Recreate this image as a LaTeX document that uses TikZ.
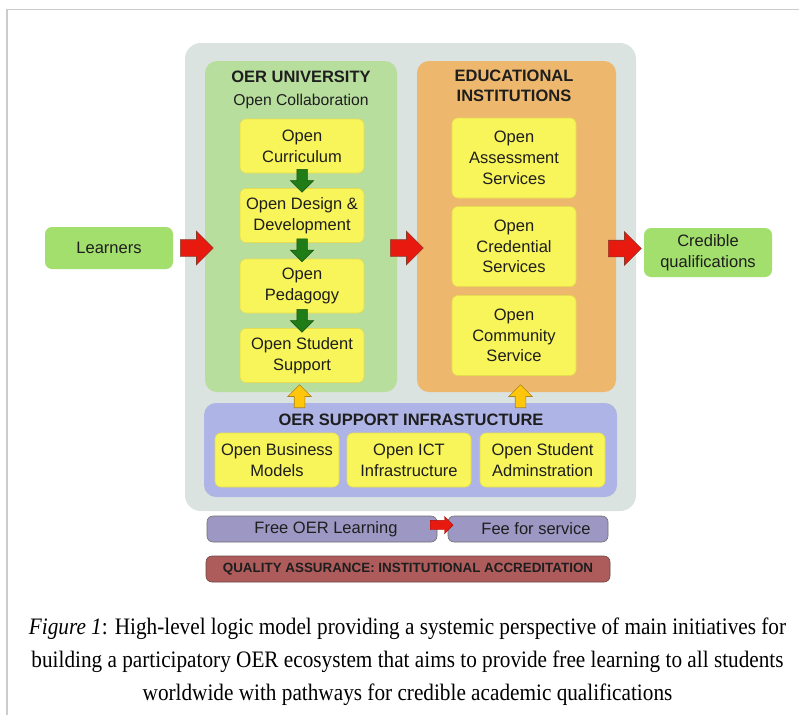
\documentclass[tikz,border=0pt]{standalone}
\usepackage{fontspec}
\setmainfont{Liberation Serif}
\newfontfamily\arialf{Liberation Sans}
\newfontfamily\capfont[FakeStretch=0.9]{Liberation Serif}
\usetikzlibrary{shapes.arrows}
\definecolor{framegray}{HTML}{CCCCCC}
\definecolor{outerc}{HTML}{DAE3DF}
\definecolor{univc}{HTML}{B8DE9D}
\definecolor{instc}{HTML}{EDB86D}
\definecolor{suppc}{HTML}{AEB4E5}
\definecolor{yboxc}{HTML}{F8F55A}
\definecolor{yboxe}{HTML}{E6DC50}
\definecolor{learnc}{HTML}{A3DF6C}
\definecolor{purpc}{HTML}{9D97C3}
\definecolor{purpe}{HTML}{707070}
\definecolor{qac}{HTML}{AE5B5B}
\definecolor{qae}{HTML}{6A4848}
\definecolor{redar}{HTML}{E8190F}
\definecolor{redard}{HTML}{8A3A2A}
\definecolor{greenar}{HTML}{1F7C17}
\definecolor{greenard}{HTML}{17520F}
\definecolor{yelar}{HTML}{FFC60B}
\definecolor{yelard}{HTML}{A88420}
\definecolor{txt}{HTML}{1E1E1E}
\newcommand{\stxt}{\arialf\fontsize{16.5}{20.7}\selectfont}
\newcommand{\ctxt}{\arialf\fontsize{15.7}{20}\selectfont}
\newcommand{\btxt}{\arialf\bfseries\fontsize{16.5}{20.5}\selectfont}
\newcommand{\qtxt}{\arialf\bfseries\fontsize{13.4}{16}\selectfont}
\newcommand{\captxt}{\capfont\fontsize{23.6}{32.8}\selectfont}
\tikzset{
  panel/.style={rounded corners=12pt, inner sep=0pt},
  ybox/.style={fill=yboxc, draw=yboxe, line width=0.6pt, rounded corners=6pt,
    minimum width=124pt, align=center, font=\stxt, text=txt, inner sep=0pt},
  gbox/.style={fill=learnc, rounded corners=7pt, minimum width=128pt,
    align=center, font=\stxt, text=txt, inner sep=0pt},
  pbar/.style={fill=purpc, draw=purpe, line width=0.6pt, rounded corners=6pt,
    minimum height=26pt, font=\stxt, text=txt, inner sep=0pt},
  redarrow/.style={single arrow, fill=redar, draw=redard, line width=0.6pt,
    inner xsep=0pt, inner ysep=8pt, single arrow head extend=8.5pt,
    minimum height=33pt, anchor=tail},
  smallred/.style={single arrow, fill=redar, draw=redar!70!black, line width=0.4pt,
    inner xsep=0pt, inner ysep=4.5pt, single arrow head extend=4pt,
    minimum height=23pt, anchor=tail},
  greenarrow/.style={single arrow, fill=greenar, draw=greenard, line width=0.5pt,
    inner xsep=0pt, inner ysep=5pt, single arrow head extend=6.5pt,
    minimum height=23pt, rotate=-90, anchor=tail},
  yelarrow/.style={single arrow, fill=yelar, draw=yelard, line width=0.6pt,
    inner xsep=0pt, inner ysep=5pt, single arrow head extend=6.5pt,
    minimum height=23pt, rotate=90, anchor=tail},
}
\begin{document}
\begin{tikzpicture}[x=1pt,y=-1pt]
\useasboundingbox (0,0) rectangle (799,715);
\fill[white] (0,0) rectangle (799,715);
\draw[framegray, line width=1.5pt] (7,715) -- (7,9.5) -- (799,9.5);

% panels
\node[panel, fill=outerc, rounded corners=16pt, minimum width=451pt, minimum height=468pt] (outer) at (410.5,277) {};
\node[panel, fill=univc, minimum width=192pt, minimum height=331pt] (univ) at (301,226.5) {};
\node[panel, fill=instc, minimum width=199pt, minimum height=331pt] (inst) at (516.5,226.5) {};
\node[panel, fill=suppc, minimum width=413pt, minimum height=94pt] (supp) at (410.5,450) {};

% headings
\node[font=\btxt, text=txt, inner sep=0pt] (univt) at (301,77) {OER UNIVERSITY};
\node[font=\ctxt, text=txt, inner sep=0pt] (univs) at (301,101) {Open Collaboration};
\node[font=\btxt, text=txt, inner sep=0pt, align=center] (instt) at (514,86) {EDUCATIONAL\\INSTITUTIONS};
\node[font=\btxt, text=txt, inner sep=0pt] (suppt) at (411,420) {OER SUPPORT INFRASTUCTURE};

% university boxes
\node[ybox, minimum height=54pt] (cur) at (302,146) {Open\\Curriculum};
\node[ybox, minimum height=54pt] (des) at (302,215.5) {Open Design \&\\Development};
\node[ybox, minimum height=54pt] (ped) at (302,286) {Open\\Pedagogy};
\node[ybox, minimum height=54pt] (stu) at (302,355.5) {Open Student\\Support};

% institution boxes
\node[ybox, minimum height=80pt] (ass) at (514,158) {Open\\Assessment\\Services};
\node[ybox, minimum height=80pt] (cred) at (514,246.5) {Open\\Credential\\Services};
\node[ybox, minimum height=80pt] (comm) at (514,335.5) {Open\\Community\\Service};

% support boxes
\node[ybox, minimum height=54pt] (bus) at (277,460) {Open Business\\Models};
\node[ybox, minimum height=54pt] (ict) at (409,460) {Open ICT\\Infrastructure};
\node[ybox, minimum height=54pt, minimum width=125pt] (adm) at (542.5,460) {Open Student\\Adminstration};

% side boxes
\node[gbox, minimum height=42pt] (learn) at (109,248) {Learners};
\node[gbox, minimum height=49pt] (qual) at (708,252.5) {Credible\\qualifications};

% bottom bars
\node[pbar, minimum width=230pt] (free) at (322,529) {\hspace*{8pt}Free OER Learning};
\node[pbar, minimum width=160pt] (fee) at (528,529) {\hspace*{16pt}Fee for service};
\node[fill=qac, draw=qae, line width=0.6pt, rounded corners=6pt, minimum width=404pt,
  minimum height=26pt, font=\qtxt, text=txt, inner sep=0pt] (qa) at (408,569)
  {QUALITY ASSURANCE: INSTITUTIONAL ACCREDITATION};

% block arrows
\node[redarrow] (a1) at (180,248) {};
\node[redarrow] (a2) at (390,248) {};
\node[redarrow] (a3) at (608,248.5) {};
\node[smallred] (a4) at (430,525) {};
\node[greenarrow] (g1) at (302,169) {};
\node[greenarrow] (g2) at (302,238.5) {};
\node[greenarrow] (g3) at (302,309) {};
\node[yelarrow] (y1) at (299.5,408) {};
\node[yelarrow] (y2) at (520.5,408) {};

% caption
\node[font=\captxt, align=center, inner sep=0pt, text=black] (cap) at (407.5,662)
 {\textit{Figure 1}: High-level logic model providing a systemic perspective of main initiatives for\\
  building a participatory OER ecosystem that aims to provide free learning to all students\\
  worldwide with pathways for credible academic qualifications};
\end{tikzpicture}
\end{document}
